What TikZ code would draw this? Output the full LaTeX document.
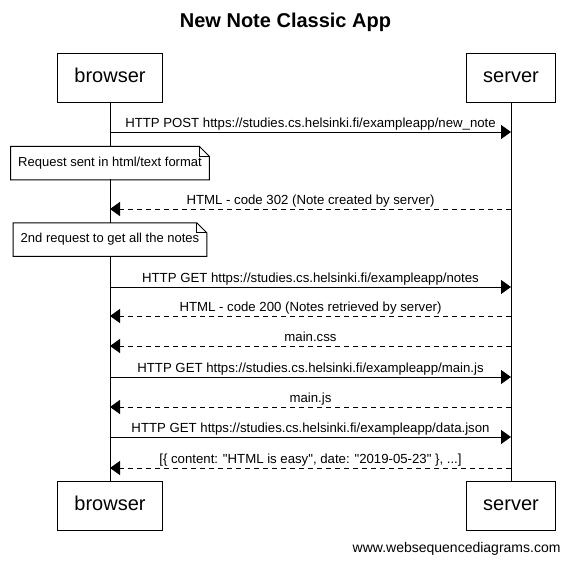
\documentclass[tikz,border=0pt]{standalone}
\usepackage{fontspec}
\setmainfont{Liberation Sans}
\usepackage{tikz}
\usetikzlibrary{arrows, arrows.meta, positioning}

% outline of a note with a folded top right corner
\newcommand{\notebox}[1]{%
  \draw (#1.north west) -- ([xshift=-10pt]#1.north east) -- ([yshift=-10pt]#1.north east)
        -- (#1.south east) -- (#1.south west) -- cycle;
  \draw ([xshift=-10pt]#1.north east) |- ([yshift=-10pt]#1.north east);
}
\newcommand{\qq}{\textquotedbl}

\begin{document}
\begin{tikzpicture}[x=1pt,y=-1pt,line width=1pt,
                    >={Triangle[length=10pt,width=14pt]}]
        \tikzstyle{actor}=[draw,fill=white,inner xsep=17pt,minimum height=49pt,
                           text height=14.5pt,text depth=4pt,
                           font=\fontsize{20}{24}\selectfont]
        \tikzstyle{note}=[fill=white,inner xsep=7pt,minimum height=32.5pt,
                          text height=9.5pt,text depth=2.8pt,
                          font=\fontsize{13}{16}\selectfont]
        \tikzstyle{msg}=[->]
        \tikzstyle{reply}=[->,dash pattern=on 5pt off 4pt]
        \tikzstyle{lbl}=[above,inner sep=1.5pt,text height=9.5pt,text depth=2.8pt,
                         font=\fontsize{13.2}{16}\selectfont]

        \useasboundingbox[fill=white] (0,0) rectangle (571,565);

        \node[font=\bfseries\fontsize{20}{24}\selectfont] (title) at (285.5,22) {New Note Classic App};

        \node[actor] (browser)    at (110,77.5)  {browser};
        \node[actor] (server)     at (511,77.5)  {server};
        \node[actor] (browserEnd) at (110,505.5) {browser};
        \node[actor] (serverEnd)  at (511,505.5) {server};

        % lifelines
        \draw (browser) -- (browserEnd);
        \draw (server) -- (serverEnd);

        \foreach \n/\yy in {1/132,2/209,3/287,4/316,5/346,6/377,7/407,8/437,9/468}
          {
            \coordinate (b\n) at (browser |- 0,\yy);
            \coordinate (s\n) at (server |- 0,\yy);
          }

        \path (b1) edge[msg]   node[lbl] {HTTP POST https://studies.cs.helsinki.fi/exampleapp/new\_note} (s1)
              (s2) edge[reply] node[lbl] {HTML - code 302 (Note created by server)} (b2)
              (b3) edge[msg]   node[lbl] {HTTP GET https://studies.cs.helsinki.fi/exampleapp/notes} (s3)
              (s4) edge[reply] node[lbl] {HTML - code 200 (Notes retrieved by server)} (b4)
              (s5) edge[reply] node[lbl] {main.css} (b5)
              (b6) edge[msg]   node[lbl] {HTTP GET https://studies.cs.helsinki.fi/exampleapp/main.js} (s6)
              (s7) edge[reply] node[lbl] {main.js} (b7)
              (b8) edge[msg]   node[lbl] {HTTP GET https://studies.cs.helsinki.fi/exampleapp/data.json} (s8)
              (s9) edge[reply] node[lbl] {[\{ content: \qq HTML is easy\qq, date: \qq 2019-05-23\qq\ \}, ...]} (b9);

        \node[note] (note1) at (110,163)   {Request sent in html/text format};
        \notebox{note1}
        \node[note] (note2) at (110,239.5) {2nd request to get all the notes};
        \notebox{note2}

        \node[anchor=east,inner sep=0pt,font=\fontsize{14}{17}\selectfont] (site) at (561,549) {www.websequencediagrams.com};
    \end{tikzpicture}
\end{document}
